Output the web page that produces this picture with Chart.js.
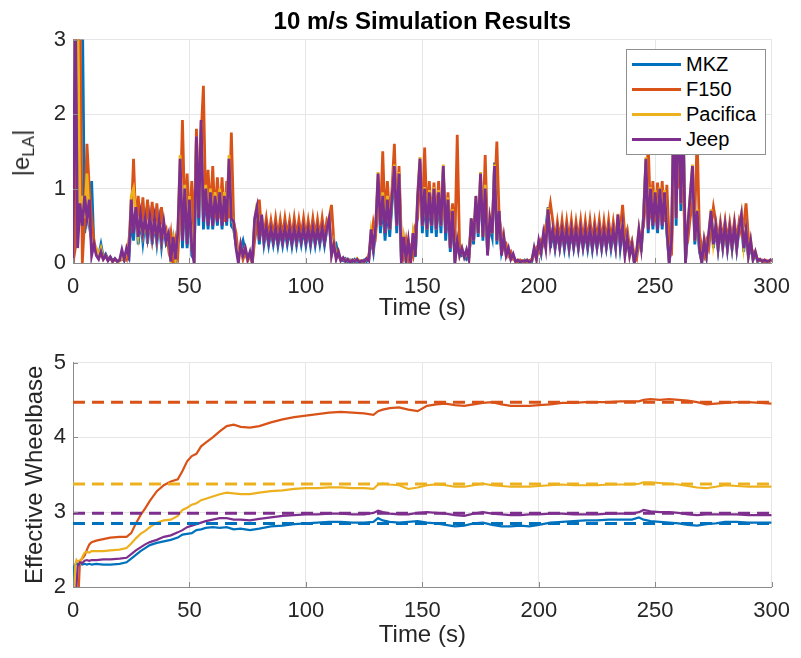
<!DOCTYPE html>
<html lang="en">
<head>
<meta charset="UTF-8">
<title>10 m/s Simulation Results</title>
<script src="https://cdn.jsdelivr.net/npm/chart.js"></script>
<style>
  body { margin: 0; background: #fff; font-family: "Liberation Sans", Arial, Helvetica, sans-serif; }
  #page { position: relative; width: 801px; height: 658px; overflow: hidden; background: #fff; }
  canvas { position: absolute; left: 0; }
  #elaChart { top: 0; }
  #wbChart { top: 335px; }
  #elaLabel {
    position: absolute; left: 23px; top: 153px;
    transform: translate(-50%, -50%) rotate(-90deg);
    font-size: 24px; line-height: 1; color: #262626; white-space: nowrap;
  }
  #elaLabel sub { font-size: 17px; vertical-align: -5px; line-height: 1; }
  #legend {
    position: absolute; left: 626px; top: 49px; width: 138px; height: 102.5px;
    padding-top: 1.5px; border: 1px solid #8f8f8f; background: #fff;
  }
  .legend-row { height: 25px; display: flex; align-items: center; }
  .legend-line { width: 49px; height: 3px; margin-left: 5px; margin-right: 5px; }
  .legend-text { font-size: 20px; color: #000; }
</style>
</head>
<body>
<div id="page">
  <canvas id="elaChart" width="801" height="335"></canvas>
  <canvas id="wbChart" width="801" height="323"></canvas>
  <div id="elaLabel">|e<sub>LA</sub>|</div>
  <div id="legend"></div>
</div>
<script>
const seriesNames = ['MKZ', 'F150', 'Pacifica', 'Jeep'];
const seriesColors = ['#0072BD', '#D95319', '#EDB120', '#7E2F8E'];

// |e_LA| sampled once per second, t = 0 .. 300 s
const elaMKZ = [
  0, 1.5, 2.5, 3.5, 3.5, 0.4, 0.7, 0.5, 1.1, 0.2,
  0.15, 0.1, 0.25, 0.08, 0.12, 0.05, 0.08, 0.03, 0.05, 0.02,
  0.03, 0.06, 0.03, 0.08, 0.05, 0.6, 0.3, 0.8, 0.25, 0.6,
  0.28, 0.58, 0.26, 0.6, 0.25, 0.55, 0.26, 0.55, 0.22, 0.5,
  0.25, 0.3, 0.05, 0.3, 0, 0.3, 1.2, 0.2, 0.9, 0.2,
  0.8, 0.1, 0.05, 1.5, 0.5, 1.8, 0.45, 0.95, 0.45, 0.9,
  0.45, 0.85, 0.5, 0.9, 0.45, 0.85, 0.5, 1.3, 0.5, 0.45,
  0.25, 0.1, 0.2, 0.3, 0.15, 0.08, 0.12, 0.02, 0.5, 0.7,
  0.25, 0.6, 0.25, 0.45, 0.24, 0.44, 0.25, 0.45, 0.23, 0.43,
  0.24, 0.45, 0.25, 0.44, 0.23, 0.45, 0.24, 0.43, 0.25, 0.45,
  0.24, 0.44, 0.23, 0.45, 0.24, 0.44, 0.25, 0.45, 0.24, 0.44,
  0.55, 0.15, 0.2, 0.25, 0.1, 0.05, 0.03, 0.06, 0.02, 0.04,
  0.02, 0.05, 0.02, 0.03, 0.02, 0.04, 0.02, 0.04, 0.35, 0.15,
  0.45, 1.1, 0.4, 0.8, 0.3, 0.75, 0.35, 0.8, 1.2, 0.4,
  1.1, 0.05, 0.3, 0.02, 0.25, 0.05, 0.35, 0.08, 0.8, 1.35,
  0.4, 0.9, 0.35, 0.9, 0.4, 0.95, 0.35, 0.9, 0.4, 1.25,
  0.3, 0.8, 0.15, 0.6, 0.05, 0.25, 0.15, 0.1, 0.12, 0.05,
  0.08, 0.5, 0.25, 0.8, 0.35, 1.15, 0.3, 0.9, 0.15, 0.5,
  0.35, 1.35, 0.25, 0.6, 0.15, 0.3, 0.12, 0.15, 0.06, 0.1,
  0.03, 0.02, 0.03, 0.01, 0.04, 0.02, 0.03, 0.02, 0.15, 0.08,
  0.25, 0.12, 0.35, 0.45, 0.75, 0.2, 0.42, 0.19, 0.41, 0.2,
  0.42, 0.19, 0.41, 0.18, 0.42, 0.2, 0.41, 0.19, 0.42, 0.2,
  0.41, 0.19, 0.42, 0.18, 0.41, 0.2, 0.42, 0.19, 0.41, 0.2,
  0.42, 0.19, 0.41, 0.2, 0.6, 0.2, 0.45, 0.15, 0.3, 0.12,
  0.2, 0.02, 0.1, 0.4, 0.15, 0.65, 1.35, 0.4, 0.95, 0.45,
  0.9, 0.4, 0.95, 0.45, 0.9, 0.4, 0.02, 0.25, 2.0, 0.5,
  2.2, 0.7, 1.8, 0.02, 0.4, 0.8, 1.25, 0.25, 0.6, 0.15,
  0.02, 0.25, 0.08, 0.35, 0.65, 0.2, 0.47, 0.18, 0.45, 0.2,
  0.47, 0.18, 0.45, 0.19, 0.47, 0.18, 0.45, 0.6, 0.15, 0.4,
  0.08, 0.25, 0.04, 0.12, 0.02, 0.04, 0.02, 0.03, 0.01, 0.02,
  0.04
];
const elaF150 = [
  0, 0.2, 3.5, 3.5, 0, 0.6, 1.6, 1.0, 0.6, 0.3,
  0.15, 0.08, 0.12, 0.05, 0.1, 0.04, 0.07, 0.02, 0.05, 0.02,
  0.03, 0.05, 0.1, 0.05, 0.3, 0.6, 1.4, 0.5, 0.9, 0.45,
  0.88, 0.45, 0.85, 0.42, 0.82, 0.4, 0.8, 0.4, 0.75, 0.38,
  0.45, 0.2, 0.4, 0, 0.3, 0.1, 0.7, 1.92, 0.6, 1.2,
  0.5, 1.1, 0.3, 1.8, 0.8, 1.7, 2.38, 0.7, 1.25, 0.65,
  1.3, 0.6, 1.15, 0.6, 1.15, 0.55, 1.1, 0.6, 1.75, 0.55,
  0.4, 0.1, 0.2, 0.05, 0.15, 0.03, 0.1, 0, 0.3, 0.5,
  0.85, 0.4, 0.38, 0.6, 0.36, 0.57, 0.37, 0.6, 0.35, 0.58,
  0.36, 0.6, 0.37, 0.57, 0.35, 0.6, 0.36, 0.58, 0.37, 0.6,
  0.35, 0.57, 0.36, 0.6, 0.37, 0.58, 0.35, 0.6, 0.36, 0.57,
  0.5, 0.78, 0.3, 0.15, 0.1, 0.04, 0.06, 0.02, 0.05, 0.02,
  0.04, 0.02, 0.05, 0.02, 0.03, 0.02, 0.05, 0.1, 0.3, 0.55,
  0.4, 0.8, 0.6, 1.5, 0.55, 1.1, 0.6, 1.0, 1.6, 0.6,
  1.3, 0.3, 0.1, 0.3, 0.05, 0.2, 0.1, 0.5, 0.6, 1.2,
  0.6, 1.55, 0.6, 1.1, 0.55, 1.08, 0.6, 1.1, 0.55, 0.9,
  0.5, 0.95, 0.4, 0.8, 0.3, 1.72, 0.2, 0.15, 0.1, 0.12,
  0.1, 0.4, 0.5, 0.7, 0.6, 1.0, 0.5, 1.45, 0.4, 0.5,
  0.6, 0.9, 1.63, 0.6, 0.4, 0.2, 0.25, 0.1, 0.15, 0.05,
  0.03, 0.02, 0.04, 0.02, 0.03, 0.02, 0.03, 0.05, 0.1, 0.2,
  0.15, 0.3, 0.25, 0.5, 0.6, 0.8, 0.57, 0.3, 0.55, 0.32,
  0.57, 0.3, 0.56, 0.31, 0.57, 0.3, 0.55, 0.32, 0.57, 0.3,
  0.56, 0.31, 0.57, 0.3, 0.55, 0.32, 0.57, 0.3, 0.56, 0.31,
  0.57, 0.3, 0.55, 0.32, 0.5, 0.45, 0.78, 0.35, 0.45, 0.2,
  0.3, 0.1, 0.05, 0.3, 0.4, 0.5, 0.9, 1.6, 0.6, 1.1,
  0.55, 1.08, 0.6, 1.1, 0.55, 1.05, 0.3, 0.1, 1.2, 2.5,
  1.0, 2.8, 1.0, 0.2, 0.3, 0.6, 0.8, 0.6, 1.7, 0.4,
  0.2, 0.1, 0.3, 0.2, 0.5, 0.75, 0.56, 0.3, 0.55, 0.32,
  0.56, 0.3, 0.54, 0.31, 0.56, 0.3, 0.55, 0.4, 0.5, 0.8,
  0.35, 0.2, 0.15, 0.1, 0.05, 0.03, 0.04, 0.02, 0.03, 0.02,
  0.04
];
const elaPacifica = [
  0, 3.5, 3.5, 0.5, 0.9, 0.6, 1.2, 0.6, 0.25, 0.2,
  0.2, 0.1, 0.2, 0.06, 0.1, 0.04, 0.07, 0.02, 0.05, 0.02,
  0.03, 0.08, 0.04, 0.15, 0.2, 0.9, 1.0, 0.62, 0.36, 0.6,
  0.38, 0.58, 0.34, 0.6, 0.32, 0.58, 0.31, 0.56, 0.29, 0.53,
  0.35, 0.35, 0.05, 0.3, 0.05, 0.35, 1.45, 0.35, 1.05, 0.3,
  0.9, 0.2, 0.05, 1.7, 0.65, 1.9, 0.6, 1.05, 0.55, 1.0,
  0.55, 0.95, 0.6, 1.0, 0.55, 0.95, 0.6, 1.45, 0.65, 0.5,
  0.25, 0.05, 0.25, 0.1, 0.2, 0.05, 0.12, 0.02, 0.55, 0.8,
  0.35, 0.65, 0.31, 0.46, 0.3, 0.45, 0.31, 0.46, 0.29, 0.44,
  0.3, 0.46, 0.31, 0.45, 0.3, 0.46, 0.29, 0.44, 0.31, 0.46,
  0.3, 0.45, 0.29, 0.46, 0.3, 0.45, 0.31, 0.46, 0.3, 0.45,
  0.62, 0.12, 0.28, 0.08, 0.15, 0.04, 0.07, 0.03, 0.05, 0.02,
  0.04, 0.02, 0.06, 0.02, 0.03, 0.02, 0.05, 0.04, 0.42, 0.22,
  0.52, 1.22, 0.5, 0.95, 0.42, 0.9, 0.45, 0.92, 1.32, 0.5,
  1.22, 0.05, 0.33, 0.05, 0.28, 0.02, 0.38, 0.12, 0.92, 1.42,
  0.5, 1.02, 0.45, 0.98, 0.5, 1.02, 0.45, 0.98, 0.5, 1.32,
  0.42, 0.88, 0.2, 0.72, 0.02, 0.3, 0.1, 0.2, 0.08, 0.16,
  0.05, 0.6, 0.3, 0.9, 0.4, 1.22, 0.35, 1.05, 0.12, 0.6,
  0.4, 1.32, 0.3, 0.7, 0.12, 0.35, 0.1, 0.18, 0.05, 0.1,
  0.02, 0.04, 0.01, 0.03, 0.02, 0.04, 0.01, 0.03, 0.18, 0.05,
  0.28, 0.15, 0.38, 0.22, 0.74, 0.28, 0.44, 0.24, 0.43, 0.23,
  0.44, 0.25, 0.43, 0.23, 0.44, 0.24, 0.43, 0.23, 0.44, 0.24,
  0.43, 0.25, 0.44, 0.23, 0.43, 0.24, 0.44, 0.23, 0.43, 0.24,
  0.44, 0.25, 0.43, 0.24, 0.66, 0.28, 0.55, 0.12, 0.36, 0.1,
  0.25, 0.02, 0.15, 0.45, 0.22, 0.62, 1.42, 0.48, 1.02, 0.52,
  0.98, 0.48, 1.02, 0.52, 0.98, 0.48, 0.02, 0.3, 2.2, 0.6,
  2.4, 0.8, 2.0, 0.02, 0.5, 0.9, 1.32, 0.3, 0.72, 0.2,
  0.02, 0.3, 0.1, 0.4, 0.72, 0.26, 0.48, 0.21, 0.47, 0.23,
  0.48, 0.21, 0.46, 0.22, 0.48, 0.21, 0.47, 0.66, 0.22, 0.46,
  0.1, 0.3, 0.05, 0.15, 0.03, 0.05, 0.02, 0.04, 0.02, 0.03,
  0.05
];
const elaJeep = [
  0, 3.5, 0.2, 0.8, 0.5, 0.9, 0.6, 0.85, 0.1, 0.25,
  0.1, 0.05, 0.15, 0.05, 0.1, 0.03, 0.08, 0.02, 0.06, 0.02,
  0.04, 0.18, 0.05, 0.2, 0.1, 0.85, 0.4, 0.75, 0.35, 0.65,
  0.4, 0.6, 0.35, 0.62, 0.33, 0.6, 0.32, 0.58, 0.3, 0.55,
  0.3, 0.4, 0.02, 0.35, 0.05, 0.4, 1.4, 0.3, 1.0, 0.25,
  0.85, 0.2, 0, 1.7, 0.6, 1.92, 0.55, 1.0, 0.5, 0.95,
  0.5, 0.9, 0.55, 0.95, 0.5, 0.9, 0.55, 1.4, 0.6, 0.55,
  0.2, 0, 0.25, 0.1, 0.2, 0.05, 0.15, 0, 0.6, 0.75,
  0.3, 0.65, 0.3, 0.48, 0.28, 0.46, 0.29, 0.47, 0.27, 0.45,
  0.28, 0.47, 0.29, 0.46, 0.27, 0.47, 0.28, 0.45, 0.29, 0.47,
  0.28, 0.46, 0.27, 0.47, 0.28, 0.46, 0.29, 0.47, 0.28, 0.46,
  0.6, 0.1, 0.25, 0.05, 0.15, 0.03, 0.07, 0.02, 0.05, 0.01,
  0.04, 0.02, 0.05, 0.01, 0.03, 0.02, 0.06, 0.03, 0.45, 0.2,
  0.5, 1.2, 0.5, 0.9, 0.4, 0.85, 0.45, 0.9, 1.3, 0.5,
  1.2, 0, 0.35, 0.05, 0.3, 0, 0.4, 0.1, 0.9, 1.4,
  0.5, 1.0, 0.45, 0.95, 0.5, 1.0, 0.45, 0.95, 0.5, 1.3,
  0.4, 0.85, 0.2, 0.7, 0, 0.3, 0.1, 0.2, 0.08, 0.18,
  0.05, 0.6, 0.3, 0.9, 0.4, 1.2, 0.35, 1.0, 0.1, 0.6,
  0.4, 1.3, 0.3, 0.7, 0.1, 0.35, 0.1, 0.2, 0.05, 0.12,
  0.02, 0.04, 0.01, 0.03, 0.02, 0.04, 0.01, 0.03, 0.2, 0.05,
  0.3, 0.15, 0.4, 0.2, 0.72, 0.25, 0.45, 0.22, 0.44, 0.21,
  0.45, 0.23, 0.44, 0.21, 0.45, 0.22, 0.44, 0.21, 0.45, 0.22,
  0.44, 0.23, 0.45, 0.21, 0.44, 0.22, 0.45, 0.21, 0.44, 0.22,
  0.45, 0.23, 0.44, 0.22, 0.65, 0.25, 0.5, 0.1, 0.35, 0.1,
  0.25, 0, 0.15, 0.45, 0.2, 0.6, 1.4, 0.45, 1.0, 0.5,
  0.95, 0.45, 1.0, 0.5, 0.95, 0.45, 0, 0.3, 2.2, 0.6,
  2.4, 0.8, 2.0, 0, 0.5, 0.9, 1.3, 0.3, 0.7, 0.2,
  0, 0.3, 0.1, 0.4, 0.7, 0.25, 0.5, 0.2, 0.48, 0.22,
  0.5, 0.2, 0.47, 0.21, 0.5, 0.2, 0.48, 0.65, 0.2, 0.45,
  0.1, 0.3, 0.05, 0.15, 0.03, 0.05, 0.02, 0.04, 0.02, 0.03,
  0.05
];

// effective wheelbase estimate over time (s)
const wbTime = [
  0, 0.5, 1, 1.5, 2, 2.5, 3, 4, 5, 6,
  7, 8, 10, 13, 16, 20, 23, 25, 27, 29,
  31, 33, 36, 39, 42, 45, 47, 49, 51, 53,
  55, 57, 60, 63, 66, 69, 72, 76, 80, 85,
  90, 95, 100, 105, 110, 115, 120, 125, 129, 131,
  133, 136, 140, 144, 148, 152, 156, 160, 164, 168,
  172, 176, 180, 184, 188, 192, 196, 200, 205, 210,
  215, 220, 225, 230, 235, 240, 243, 245, 248, 252,
  256, 260, 264, 268, 272, 276, 280, 285, 290, 295,
  300
];
const wbMKZ = [
  2.0, 2.28, 2.3, 2.32, 2.3, 2.31, 2.31, 2.3, 2.31, 2.3,
  2.31, 2.3, 2.31, 2.3, 2.3, 2.31, 2.33, 2.38, 2.43, 2.48,
  2.52, 2.56, 2.59, 2.61, 2.63, 2.66, 2.7, 2.71, 2.72, 2.76,
  2.77, 2.79, 2.8, 2.79, 2.8, 2.77, 2.78, 2.76, 2.78, 2.81,
  2.82, 2.84, 2.85, 2.86, 2.87, 2.87, 2.86, 2.86, 2.87, 2.92,
  2.89, 2.87, 2.86, 2.87, 2.88, 2.86, 2.85, 2.83, 2.81, 2.82,
  2.85, 2.86, 2.83, 2.81, 2.81, 2.82, 2.81, 2.83, 2.86, 2.87,
  2.88, 2.89, 2.89, 2.9, 2.9, 2.9, 2.93, 2.9, 2.88, 2.87,
  2.86, 2.85, 2.83, 2.82, 2.84, 2.85, 2.87, 2.87, 2.86, 2.86,
  2.86
];
const wbF150 = [
  1.8, 1.8, 1.85, 1.9, 1.95, 2.0, 2.35, 2.38, 2.42, 2.5,
  2.57, 2.6, 2.62, 2.64, 2.66, 2.67, 2.67, 2.72, 2.85, 2.96,
  3.05, 3.15, 3.28, 3.36, 3.41, 3.44, 3.55, 3.68, 3.75, 3.78,
  3.88, 3.93, 4.0, 4.08, 4.15, 4.17, 4.14, 4.13, 4.15, 4.2,
  4.24, 4.27, 4.29, 4.31, 4.33, 4.34, 4.33, 4.32, 4.3, 4.35,
  4.37, 4.39, 4.4, 4.37, 4.35, 4.42, 4.44, 4.45, 4.43, 4.42,
  4.44, 4.46, 4.47, 4.44, 4.42, 4.42, 4.42, 4.43, 4.44, 4.46,
  4.46, 4.47, 4.47, 4.47, 4.48, 4.48, 4.48, 4.5, 4.51, 4.5,
  4.51, 4.5, 4.49, 4.47, 4.44, 4.45, 4.46, 4.47, 4.47, 4.46,
  4.45
];
const wbPacifica = [
  1.9, 1.95, 2.3, 2.36, 2.34, 2.35, 2.32, 2.4, 2.46, 2.47,
  2.46, 2.48, 2.48, 2.48, 2.49, 2.5, 2.52, 2.58, 2.65, 2.71,
  2.75, 2.8, 2.86, 2.89, 2.9, 2.95, 3.03, 3.06, 3.1, 3.12,
  3.16, 3.18, 3.21, 3.24, 3.26, 3.25, 3.24, 3.24, 3.26, 3.28,
  3.29, 3.31, 3.32, 3.32, 3.33, 3.33, 3.32, 3.32, 3.31, 3.37,
  3.38, 3.37, 3.36, 3.31, 3.33, 3.36, 3.37, 3.36, 3.34, 3.34,
  3.36, 3.38, 3.36, 3.35, 3.34, 3.34, 3.34, 3.35, 3.36, 3.37,
  3.36, 3.36, 3.36, 3.37, 3.37, 3.37, 3.38, 3.4, 3.4, 3.39,
  3.38, 3.37, 3.35, 3.33, 3.32, 3.34, 3.36, 3.35, 3.34, 3.34,
  3.34
];
const wbJeep = [
  1.8, 1.85, 1.9, 2.0, 2.28, 2.3, 2.33, 2.32, 2.35, 2.36,
  2.35, 2.36, 2.36, 2.37, 2.37, 2.38, 2.39, 2.44, 2.49, 2.53,
  2.57, 2.6, 2.63, 2.67, 2.69, 2.73, 2.76, 2.8, 2.82, 2.84,
  2.86, 2.88, 2.9, 2.92, 2.92, 2.9, 2.9, 2.89, 2.91, 2.93,
  2.95, 2.96, 2.97, 2.97, 2.98, 2.98, 2.97, 2.97, 2.99, 3.02,
  3.0, 2.98, 2.97, 2.97, 2.99, 3.0, 2.99, 2.98, 2.96, 2.95,
  2.98, 3.0, 2.98, 2.97, 2.96, 2.96, 2.97, 2.97, 2.98, 2.98,
  2.97, 2.97, 2.97, 2.98, 2.98, 2.98, 3.0, 3.03, 3.01, 3.0,
  3.0, 2.99, 2.97, 2.96, 2.97, 2.97, 2.97, 2.97, 2.96, 2.96,
  2.96
];
// actual wheelbase of each vehicle (dashed reference lines)
const wbActual = [2.85, 4.47, 3.375, 2.985];

const timeRange = [0, 300];

const fontFamily = '"Liberation Sans", Arial, Helvetica, sans-serif';
const textColor = '#262626';
const axisColor = '#8a8a8a';
const gridColor = '#e6e6e6';

const elaSeries = [elaMKZ, elaF150, elaPacifica, elaJeep];
const wbSeries = [wbMKZ, wbF150, wbPacifica, wbJeep];

// short inward tick marks along the left and bottom axes
const innerTicks = {
  id: 'innerTicks',
  afterDraw(chart) {
    const { ctx, chartArea: a, scales: { x, y } } = chart;
    ctx.save();
    ctx.strokeStyle = axisColor;
    ctx.lineWidth = 1;
    ctx.beginPath();
    x.ticks.forEach(t => {
      const px = Math.round(x.getPixelForValue(t.value)) + 0.5;
      ctx.moveTo(px, a.bottom);
      ctx.lineTo(px, a.bottom - 5);
    });
    y.ticks.forEach(t => {
      const py = Math.round(y.getPixelForValue(t.value)) + 0.5;
      ctx.moveTo(a.left, py);
      ctx.lineTo(a.left + 5, py);
    });
    ctx.stroke();
    ctx.restore();
  }
};

function timeAxis(height, titleBottom) {
  return {
    type: 'linear',
    min: timeRange[0],
    max: timeRange[1],
    ticks: { stepSize: 50, color: textColor, font: { family: fontFamily, size: 22 }, padding: 11, maxRotation: 0 },
    grid: { color: gridColor, drawTicks: false },
    border: { color: axisColor },
    title: {
      display: true, text: 'Time (s)', color: textColor,
      font: { family: fontFamily, size: 24 },
      padding: { top: 0, bottom: titleBottom }
    },
    afterFit: s => { s.height = height; }
  };
}

function valueAxis(min, max, title) {
  return {
    type: 'linear',
    min: min,
    max: max,
    ticks: { stepSize: 1, color: textColor, font: { family: fontFamily, size: 22 }, padding: 7 },
    grid: { color: gridColor, drawTicks: false },
    border: { color: axisColor },
    title: title ? {
      display: true, text: title, color: textColor,
      font: { family: fontFamily, size: 24 },
      padding: { top: 21, bottom: 0 }
    } : { display: false },
    afterFit: s => { s.width = 73; }
  };
}

const elaDatasets = seriesNames.map((name, i) => ({
  label: name,
  data: elaSeries[i].map((v, t) => ({ x: t, y: v })),
  borderColor: seriesColors[i],
  borderWidth: 2.8,
  pointRadius: 0,
  tension: 0,
  order: seriesNames.length - i
}));

new Chart(document.getElementById('elaChart'), {
  type: 'line',
  data: { datasets: elaDatasets },
  options: {
    responsive: false,
    animation: false,
    devicePixelRatio: 1,
    layout: { padding: { left: 0, right: 23, top: 0, bottom: 0 } },
    plugins: {
      legend: { display: false },
      tooltip: { enabled: false },
      title: {
        display: true,
        text: '10 m/s Simulation Results',
        color: '#000',
        fullSize: false,
        font: { family: fontFamily, size: 24, weight: 'bold' },
        padding: { top: 8, bottom: 2.7 }
      }
    },
    scales: {
      x: timeAxis(72, 12),
      y: valueAxis(0, 3, null)
    }
  },
  plugins: [innerTicks]
});

const wbDatasets = seriesNames.map((name, i) => ({
  label: name,
  data: wbSeries[i].map((v, k) => ({ x: wbTime[k], y: v })),
  borderColor: seriesColors[i],
  borderWidth: 2.2,
  pointRadius: 0,
  tension: 0,
  order: 10 - i
})).concat(seriesNames.map((name, i) => ({
  label: name + ' actual',
  data: timeRange.map(t => ({ x: t, y: wbActual[i] })),
  borderColor: seriesColors[i],
  borderWidth: 3,
  borderDash: [12, 7],
  pointRadius: 0,
  order: 4 - i
})));

new Chart(document.getElementById('wbChart'), {
  type: 'line',
  data: { datasets: wbDatasets },
  options: {
    responsive: false,
    animation: false,
    devicePixelRatio: 1,
    layout: { padding: { left: 0, right: 23, top: 27.5, bottom: 0 } },
    plugins: {
      legend: { display: false },
      tooltip: { enabled: false }
    },
    scales: {
      x: timeAxis(71, 8),
      y: valueAxis(2, 5, 'Effective Wheelbase')
    }
  },
  plugins: [innerTicks]
});

// legend box inside the upper plot
const legendBox = document.getElementById('legend');
seriesNames.forEach((name, i) => {
  const row = document.createElement('div');
  row.className = 'legend-row';
  const line = document.createElement('div');
  line.className = 'legend-line';
  line.style.background = seriesColors[i];
  const text = document.createElement('span');
  text.className = 'legend-text';
  text.textContent = name;
  row.appendChild(line);
  row.appendChild(text);
  legendBox.appendChild(row);
});
</script>
</body>
</html>
